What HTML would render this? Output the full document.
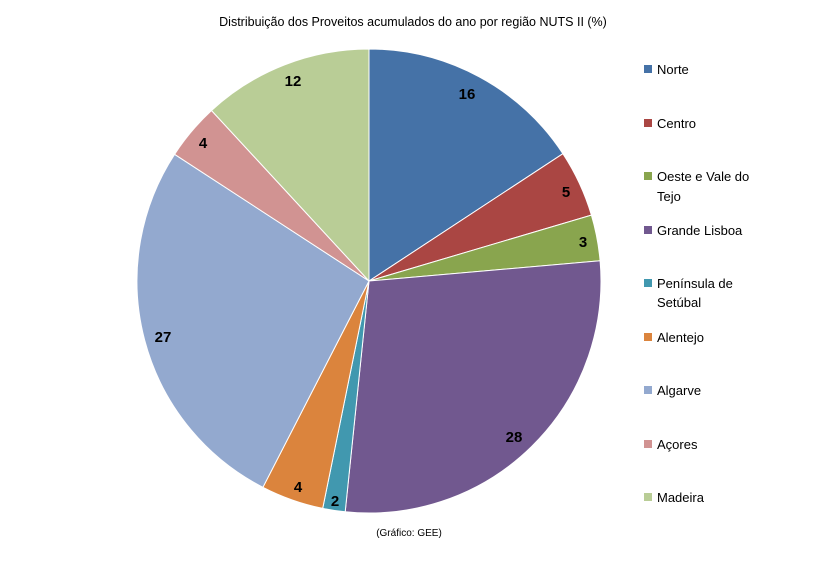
<!DOCTYPE html>
<html><head><meta charset="utf-8"><style>
body{margin:0;background:#fff;width:839px;height:559px;overflow:hidden}
svg text{font-family:"Liberation Sans",sans-serif}
</style></head><body>
<svg width="839" height="559" viewBox="0 0 839 559">
<text x="413" y="26" font-size="12.5" text-anchor="middle" fill="#000">Distribuição dos Proveitos acumulados do ano por região NUTS II (%)</text>
<g stroke="#fff" stroke-width="1">
<path d="M369,281 L369,49 A232,232 0 0 1 562.9,153.7 Z" fill="#4572A7"/>
<path d="M369,281 L562.9,153.7 A232,232 0 0 1 591.4,215.1 Z" fill="#AA4643"/>
<path d="M369,281 L591.4,215.1 A232,232 0 0 1 600.1,260.8 Z" fill="#89A54E"/>
<path d="M369,281 L600.1,260.8 A232,232 0 0 1 345.2,511.8 Z" fill="#71588F"/>
<path d="M369,281 L345.2,511.8 A232,232 0 0 1 322.7,508.4 Z" fill="#4198AF"/>
<path d="M369,281 L322.7,508.4 A232,232 0 0 1 262.9,487.3 Z" fill="#DB843D"/>
<path d="M369,281 L262.9,487.3 A232,232 0 0 1 174.6,154.3 Z" fill="#93A9CF"/>
<path d="M369,281 L174.6,154.3 A232,232 0 0 1 211.5,110.5 Z" fill="#D19392"/>
<path d="M369,281 L211.5,110.5 A232,232 0 0 1 369,49 Z" fill="#B9CD96"/>
</g>
<g font-size="15" font-weight="bold" fill="#000" text-anchor="middle">
<text x="467" y="99">16</text>
<text x="566" y="197">5</text>
<text x="583" y="247">3</text>
<text x="514" y="442">28</text>
<text x="335" y="506">2</text>
<text x="298" y="492">4</text>
<text x="163" y="342">27</text>
<text x="203" y="148">4</text>
<text x="293" y="86">12</text>
</g>
<g font-size="13" fill="#000">
<rect x="644" y="65" width="8" height="8" fill="#4572A7"/><text x="657" y="74">Norte</text>
<rect x="644" y="119" width="8" height="8" fill="#AA4643"/><text x="657" y="128">Centro</text>
<rect x="644" y="172" width="8" height="8" fill="#89A54E"/><text x="657" y="181">Oeste e Vale do</text><text x="657" y="201">Tejo</text>
<rect x="644" y="226" width="8" height="8" fill="#71588F"/><text x="657" y="235">Grande Lisboa</text>
<rect x="644" y="279" width="8" height="8" fill="#4198AF"/><text x="657" y="288">Península de</text><text x="657" y="307">Setúbal</text>
<rect x="644" y="333" width="8" height="8" fill="#DB843D"/><text x="657" y="342">Alentejo</text>
<rect x="644" y="386" width="8" height="8" fill="#93A9CF"/><text x="657" y="395">Algarve</text>
<rect x="644" y="440" width="8" height="8" fill="#D19392"/><text x="657" y="449">Açores</text>
<rect x="644" y="493" width="8" height="8" fill="#B9CD96"/><text x="657" y="502">Madeira</text>
</g>
<text x="409" y="536" font-size="10" text-anchor="middle" fill="#000">(Gráfico: GEE)</text>
</svg>
</body></html>
